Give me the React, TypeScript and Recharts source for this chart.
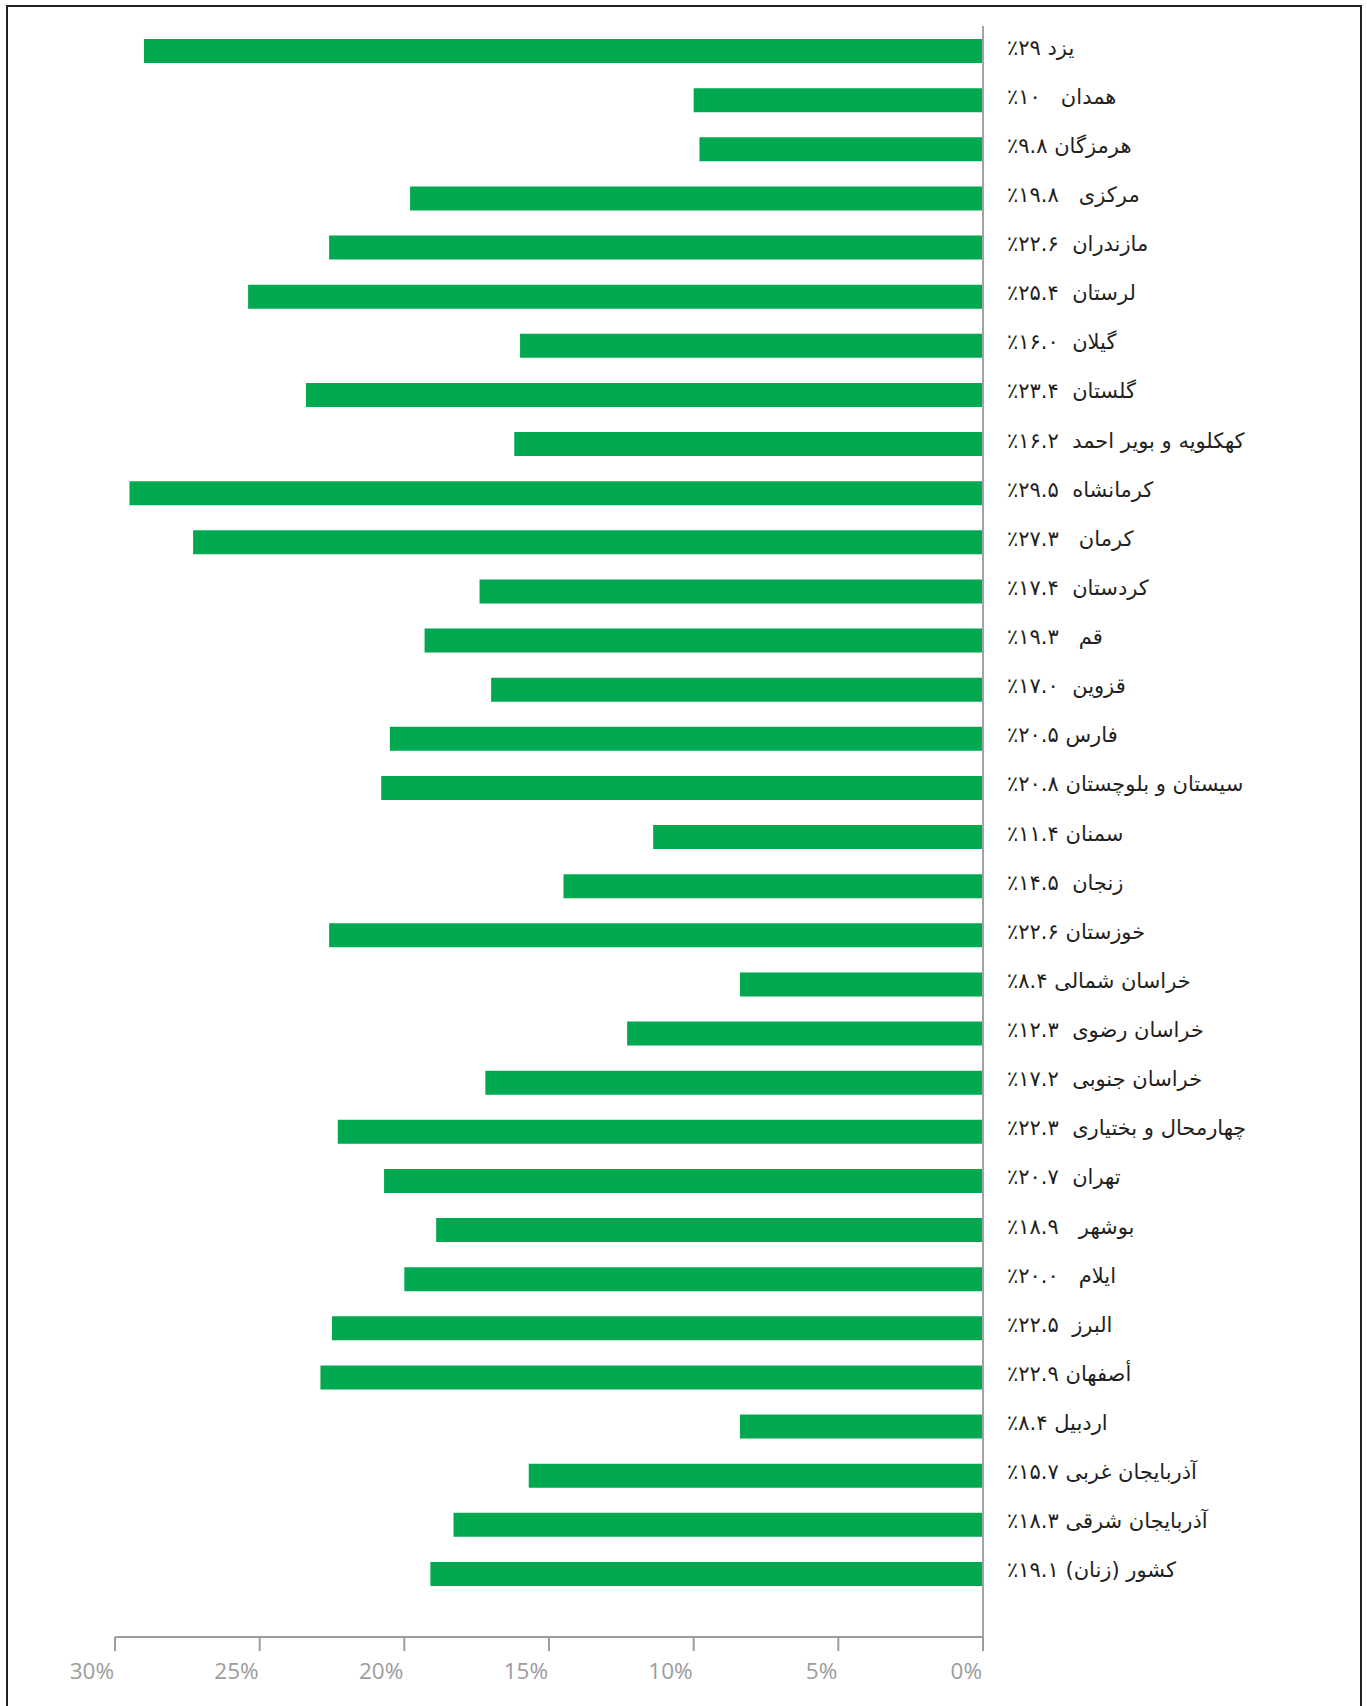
import { Bar, BarChart, XAxis, YAxis } from "recharts";

// top to bottom, as in the picture
const provinces = [
  "یزد", "همدان", "هرمزگان", "مرکزی", "مازندران", "لرستان", "گیلان", "گلستان",
  "کهکلویه و بویر احمد", "کرمانشاه", "کرمان", "کردستان", "قم", "قزوین", "فارس",
  "سیستان و بلوچستان", "سمنان", "زنجان", "خوزستان", "خراسان شمالی", "خراسان رضوی",
  "خراسان جنوبی", "چهارمحال و بختیاری", "تهران", "بوشهر", "ایلام", "البرز", "أصفهان",
  "اردبیل", "آذربایجان غربی", "آذربایجان شرقی", "کشور (زنان)",
];

const shares = [
  29, 10, 9.8, 19.8, 22.6, 25.4, 16.0, 23.4, 16.2, 29.5, 27.3, 17.4, 19.3, 17.0, 20.5,
  20.8, 11.4, 14.5, 22.6, 8.4, 12.3, 17.2, 22.3, 20.7, 18.9, 20.0, 22.5, 22.9, 8.4,
  15.7, 18.3, 19.1,
];

// printed value next to each name
const shareText = [
  "۲۹", "۱۰", "۹.۸", "۱۹.۸", "۲۲.۶", "۲۵.۴", "۱۶.۰", "۲۳.۴", "۱۶.۲", "۲۹.۵", "۲۷.۳",
  "۱۷.۴", "۱۹.۳", "۱۷.۰", "۲۰.۵", "۲۰.۸", "۱۱.۴", "۱۴.۵", "۲۲.۶", "۸.۴", "۱۲.۳",
  "۱۷.۲", "۲۲.۳", "۲۰.۷", "۱۸.۹", "۲۰.۰", "۲۲.۵", "۲۲.۹", "۸.۴", "۱۵.۷", "۱۸.۳", "۱۹.۱",
];

// gap between name and number (1 = narrow, 3 = wide)
const gaps = [1, 3, 1, 3, 2, 2, 2, 2, 2, 2, 3, 2, 3, 2, 1, 1, 1, 2, 1, 1, 2, 2, 2, 2, 3, 3, 2, 1, 1, 1, 1, 1];

const xTicks = [0, 5, 10, 15, 20, 25, 30];

const rows = provinces.map((name, i) => ({
  label: name + " ".repeat(gaps[i]) + shareText[i] + "٪",
  share: shares[i],
}));

const NameTick = (props: any) => {
  const { x, y, payload } = props;
  return (
    <text
      x={x + 16}
      y={y + 4}
      textAnchor="start"
      fontFamily="DejaVu Sans"
      fontSize={21}
      fill="#231f20"
      style={{ whiteSpace: "pre" }}
    >
      {"\u202B" + payload.value + "\u202C"}
    </text>
  );
};

const PercentTick = (props: any) => {
  const { x, y, payload } = props;
  return (
    <text x={x - 1} y={y + 26} textAnchor="end" fontFamily="Open Sans" fontSize={22.5} fill="#9c9c9c">
      {payload.value + "%"}
    </text>
  );
};

const App = () => {
  return (
    <div>
      <div
        style={{
          position: "absolute",
          left: 6,
          top: 5,
          width: 1356,
          height: 1701,
          border: "2px solid #231f20",
          borderBottom: "none",
          boxSizing: "border-box",
        }}
      />
      <div style={{ position: "absolute", left: 0, top: 0 }}>
        <BarChart
          width={1367}
          height={1706}
          data={rows}
          layout="vertical"
          margin={{ top: 26, right: 0, bottom: 0, left: 115 }}
        >
          <XAxis
            type="number"
            dataKey="share"
            domain={[0, 30]}
            ticks={xTicks}
            reversed
            height={69}
            tickSize={14}
            stroke="#9c9c9c"
            strokeWidth={2}
            tick={<PercentTick />}
            interval={0}
          />
          <YAxis
            type="category"
            dataKey="label"
            orientation="right"
            width={384}
            padding={{ top: 0, bottom: 39 }}
            tickLine={false}
            stroke="#a3a3a3"
            strokeWidth={2}
            tick={<NameTick />}
            interval={0}
          />
          <Bar dataKey="share" fill="#00a94f" barSize={24} isAnimationActive={false} />
        </BarChart>
      </div>
    </div>
  );
};

export default App;
